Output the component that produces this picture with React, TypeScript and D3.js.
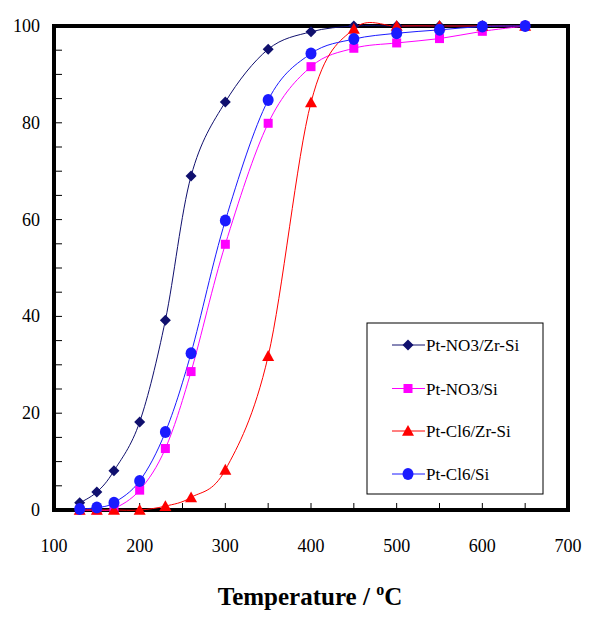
import React from "react";
import * as d3 from "d3";

const temps = [130, 150, 170, 200, 230, 260, 300, 350, 400, 450, 500, 550, 600, 650];
const no3ZrSi = [1.5, 3.7, 8.1, 18.2, 39.2, 69.0, 84.3, 95.2, 98.8, 100, 100, 100, 100, 100];
const no3Si = [0, 0, 0.3, 4.1, 12.7, 28.6, 54.9, 79.9, 91.6, 95.4, 96.5, 97.4, 98.9, 100];
const cl6ZrSi = [0, 0, 0, 0, 0.8, 2.6, 8.3, 31.8, 84.2, 99.4, 100, 100, 100, 100];
const cl6Si = [0.2, 0.5, 1.5, 6.0, 16.1, 32.4, 59.8, 84.7, 94.3, 97.3, 98.5, 99.2, 99.9, 100];

const seriesNames = ["Pt-NO3/Zr-Si", "Pt-NO3/Si", "Pt-Cl6/Zr-Si", "Pt-Cl6/Si"];
const seriesValues = [no3ZrSi, no3Si, cl6ZrSi, cl6Si];
const seriesColors = ["#10106e", "#ff00ff", "#ff0000", "#1a1aff"];
const seriesMarkers = ["diamond", "square", "triangle", "circle"];

const xTickLabels = [100, 200, 300, 400, 500, 600, 700];
const yTickLabels = [0, 20, 40, 60, 80, 100];

const W = 599;
const H = 620;
const x = d3.scaleLinear().domain([100, 700]).range([54, 568]);
const y = d3.scaleLinear().domain([0, 100]).range([510, 26]);

const FONT = "Liberation Serif, DejaVu Serif, Times New Roman, serif";

function Marker({ kind, cx, cy, color }: { kind: string; cx: number; cy: number; color: string }) {
  if (kind === "diamond") {
    const r = 5.5;
    return <path d={`M${cx},${cy - r}L${cx + r},${cy}L${cx},${cy + r}L${cx - r},${cy}Z`} fill={color} />;
  }
  if (kind === "square") {
    const s = 4.5;
    return <rect x={cx - s} y={cy - s} width={2 * s} height={2 * s} fill={color} />;
  }
  if (kind === "triangle") {
    const s = 6;
    return <path d={`M${cx},${cy - s}L${cx + s},${cy + s * 0.8}L${cx - s},${cy + s * 0.8}Z`} fill={color} />;
  }
  return <ellipse cx={cx} cy={cy} rx={5.5} ry={6} fill={color} />;
}

export default function App() {
  const line = d3
    .line<[number, number]>()
    .x((d) => x(d[0]))
    .y((d) => y(d[1]))
    .curve(d3.curveCardinal.tension(0));

  const xMinor = d3.range(150, 700, 50);
  const yMinor = d3.range(5, 100, 5);

  const legX = 367;
  const legY = 323;
  const legW = 176;
  const legH = 171;
  const legRows = [345, 388.5, 431, 474];

  const txt = { fontFamily: FONT };

  return (
    <svg width={W} height={H} style={{ position: "absolute", left: 0, top: 0, background: "#fff" }}>
      <rect x={0} y={0} width={W} height={H} fill="#fff" />
      {xMinor.map((t) => (
        <line key={"xt" + t} x1={x(t)} x2={x(t)} y1={y(0)} y2={y(0) - 7} stroke="#000" strokeWidth={1} />
      ))}
      {yMinor.map((t) => (
        <line key={"yt" + t} x1={x(100)} x2={x(100) + 8} y1={y(t)} y2={y(t)} stroke="#000" strokeWidth={1} />
      ))}
      <rect x={x(100)} y={y(100)} width={x(700) - x(100)} height={y(0) - y(100)} fill="none" stroke="#000" strokeWidth={4} />
      {xTickLabels.map((t) => (
        <text key={"xl" + t} x={x(t)} y={552} textAnchor="middle" style={txt} fontSize={18} fill="#000">
          {t}
        </text>
      ))}
      {yTickLabels.map((t) => (
        <text key={"yl" + t} x={40} y={y(t) + 6} textAnchor="end" style={txt} fontSize={18} fill="#000">
          {t}
        </text>
      ))}
      {seriesValues.map((vals, i) => (
        <path
          key={"l" + i}
          d={line(temps.map((t, j) => [t, vals[j]] as [number, number])) || ""}
          fill="none"
          stroke={seriesColors[i]}
          strokeWidth={1}
        />
      ))}
      {seriesValues.map((vals, i) => (
        <g key={"m" + i}>
          {temps.map((t, j) => (
            <Marker key={j} kind={seriesMarkers[i]} cx={x(t)} cy={y(vals[j])} color={seriesColors[i]} />
          ))}
        </g>
      ))}
      <rect x={legX} y={legY} width={legW} height={legH} fill="#fff" stroke="#000" strokeWidth={1} />
      {seriesNames.map((name, i) => (
        <g key={"lg" + i}>
          <line x1={392} x2={425} y1={legRows[i]} y2={legRows[i]} stroke={seriesColors[i]} strokeWidth={1} />
          <Marker kind={seriesMarkers[i]} cx={408} cy={legRows[i]} color={seriesColors[i]} />
          <text x={426} y={legRows[i] + 6} style={txt} fontSize={17} fill="#000">
            {name}
          </text>
        </g>
      ))}
      <text x={310} y={605} textAnchor="middle" style={txt} fontSize={25} fontWeight="bold" fill="#000">
        Temperature / <tspan fontSize={16} dy={-10}>o</tspan>
        <tspan dy={10}>C</tspan>
      </text>
    </svg>
  );
}
